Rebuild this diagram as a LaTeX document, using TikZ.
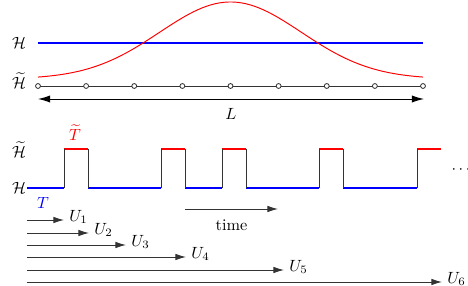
\documentclass[tikz,border=0pt]{standalone}
\usetikzlibrary{arrows.meta, positioning}

\begin{document}
\begin{tikzpicture}[x=0.615pt, y=-0.615pt, ln/.style={black!80,line width=0.6pt}, hi/.style={red,line width=1.5pt}, lo/.style={blue,line width=1.5pt}, arr/.style={ln,-{Latex[length=6.5pt,width=4pt]}}, ulab/.style={anchor=west,inner sep=1pt,xshift=2pt,yshift=2pt,text=black}]
  \useasboundingbox (0,0) rectangle (468,286);
  % upper part: gaussian over the chain
  \node (Ha) at (19,43) {$\mathcal{H}$};
  \node[inner sep=1pt] (Hta) at (19,81) {$\widetilde{\mathcal{H}}$};
  \draw[blue,line width=0.75pt] (38,43) -- (423,43);
  \draw[red,line width=0.6pt] plot[domain=38:423,samples=90] (\x,{79-77*exp(-(((\x-230.5)/100)^2)/1.0052)});
  \draw[ln] (38,86) -- (423,86);
  \foreach \i in {0,...,8}{\node[circle,draw=black!80,fill=white,inner sep=0pt,minimum size=3pt,line width=0.5pt](c\i) at ({38+\i*48.125},86){};}
  \coordinate (La) at (38,99); \coordinate (Lb) at (424,99);
  \draw[{Latex[length=7.5pt,width=4.5pt]}-{Latex[length=7.5pt,width=4.5pt]},black,line width=0.6pt](La)--node[below=2pt](L){$L$}(Lb);
  % lower part: pulse train
  \node[inner sep=1pt] (Htb) at (19,150) {$\widetilde{\mathcal{H}}$};
  \node (Hb) at (19,188) {$\mathcal{H}$};
  \node[red,inner sep=1pt] (Tt) at (75,133) {$\widetilde{T}$};
  \node[blue] (T) at (43,203) {$T$};
  \foreach \x/\y in {64/88,161/185,222/246,319/343,417/441}{\draw[hi](\x,149)--(\y,149);}
  \foreach \x/\y in {27/64,88/125,125/161,185/222,246/319,343/381,381/417}{\draw[lo](\x,188)--(\y,188);}
  \foreach \x in {64,88,161,185,222,246,319,343,417}{\draw[ln](\x,188)--(\x,149);}
  \node (dots) at (461,170) {$\cdots$};
  \coordinate (ta) at (185,209); \coordinate (tb) at (278,209);
  \draw[arr](ta)--(tb) node[midway,below=3pt,text=black](time){time};
  % arrows U_1 ... U_6
  \foreach \i/\y/\e in {1/220/64,2/233/89,3/245/126,4/257/186,5/270/284,6/282/442}{
    \coordinate (s\i) at (27,\y); \coordinate (e\i) at (\e,\y);
    \draw[arr](s\i)--(e\i) node[ulab](U\i){$U_{\i}$};}
\end{tikzpicture}
\end{document}
